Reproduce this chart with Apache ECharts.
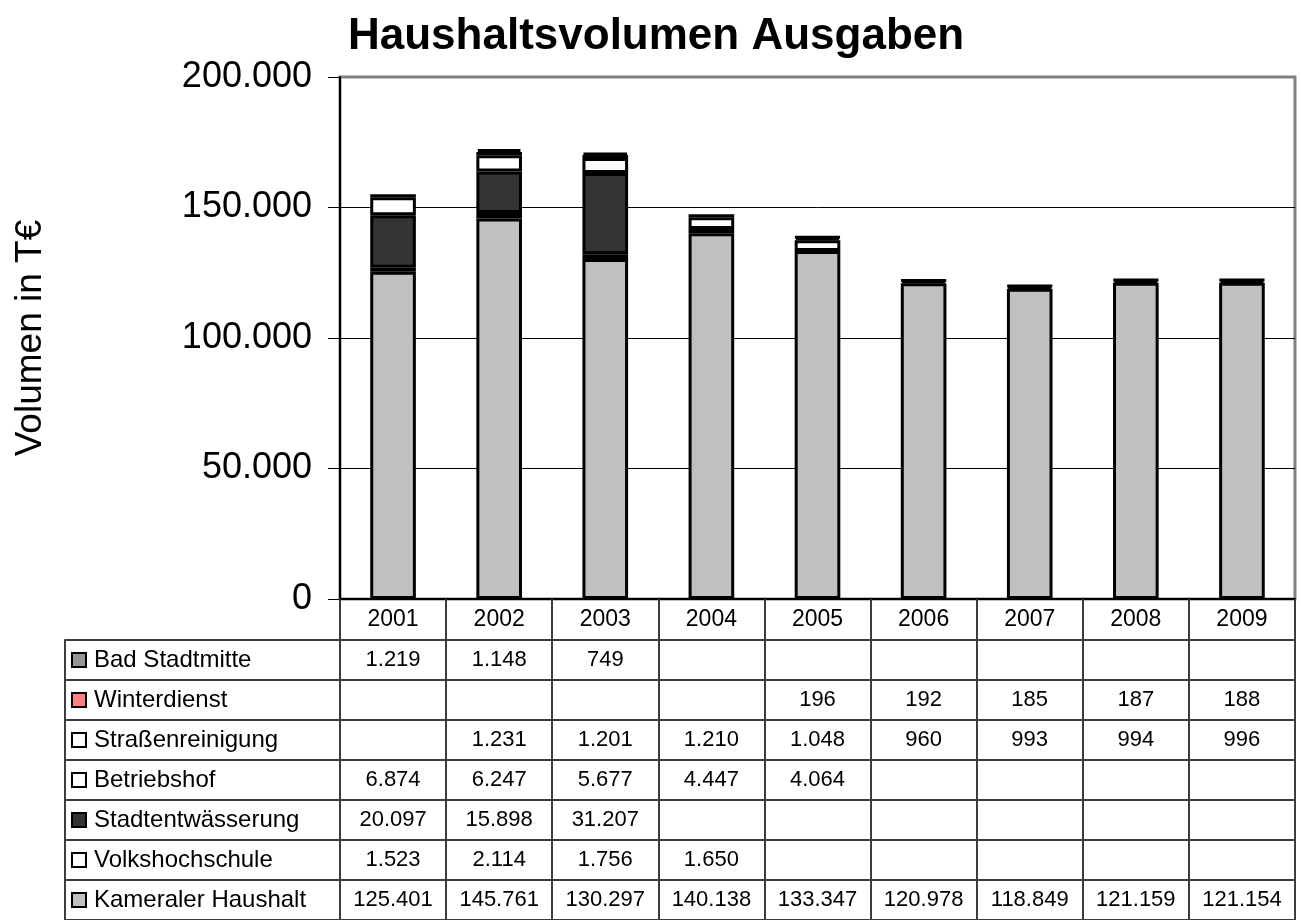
<!DOCTYPE html>
<html>
<head>
<meta charset="utf-8">
<script src="https://cdn.jsdelivr.net/npm/echarts@6/dist/echarts.min.js"></script>
<style>
  html, body { margin: 0; padding: 0; background: #fff; }
  #container { width: 1301px; height: 920px; }
</style>
</head>
<body>
<div id="container"></div>
<script>
var dom = document.getElementById("container");
var myChart = echarts.init(dom);

// data (T€)
var years = ['2001', '2002', '2003', '2004', '2005', '2006', '2007', '2008', '2009'];
var kameralerHaushalt = [125401, 145761, 130297, 140138, 133347, 120978, 118849, 121159, 121154];
var volkshochschule = [1523, 2114, 1756, 1650, null, null, null, null, null];
var stadtentwaesserung = [20097, 15898, 31207, null, null, null, null, null, null];
var betriebshof = [6874, 6247, 5677, 4447, 4064, null, null, null, null];
var strassenreinigung = [null, 1231, 1201, 1210, 1048, 960, 993, 994, 996];
var winterdienst = [null, null, null, null, 196, 192, 185, 187, 188];
var badStadtmitte = [1219, 1148, 749, null, null, null, null, null, null];

// stacking order, bottom to top (table rows are read the other way)
var names = ['Kameraler Haushalt', 'Volkshochschule', 'Stadtentwässerung', 'Betriebshof',
             'Straßenreinigung', 'Winterdienst', 'Bad Stadtmitte'];
var values = [kameralerHaushalt, volkshochschule, stadtentwaesserung, betriebshof,
              strassenreinigung, winterdienst, badStadtmitte];
var colors = ['#c0c0c0', '#ffffff', '#333333', '#ffffff', '#ffffff', '#ff8080', '#969696'];

const fmt = (v) => String(v).replace(/\B(?=(\d{3})+(?!\d))/g, '.');

var FONT = 'Liberation Sans, Arial, sans-serif';
var LINE = '#3c3c3c';

// rich styles for the little colour keys in the table
var rich = {};
names.forEach(function (n, i) {
    rich['k' + i] = {
        width: 12, height: 12,
        backgroundColor: colors[i],
        borderColor: '#000', borderWidth: 2
    };
});
rich.t = { fontSize: 24, color: '#000', padding: [0, 0, 0, 9], fontFamily: FONT };

var barSeries = names.map(function (n, i) {
    return {
        name: n,
        type: 'bar',
        stack: 'total',
        xAxisIndex: 0,
        yAxisIndex: 0,
        barWidth: '43%',
        data: values[i],
        itemStyle: {
            color: colors[i],
            borderColor: '#000',
            borderWidth: 3
        }
    };
});

var cells = [];
names.forEach(function (n, i) {
    values[i].forEach(function (v, j) {
        if (v !== null) cells.push([years[j], n, v]);
    });
});

option = {
    backgroundColor: '#fff',
    animation: false,
    textStyle: { fontFamily: FONT },
    title: {
        text: 'Haushaltsvolumen Ausgaben',
        left: 343,
        top: 10,
        textStyle: { fontSize: 44, fontWeight: 'bold', color: '#000', fontFamily: FONT }
    },
    grid: [
        { left: 340, width: 955, top: 77, height: 522, show: true, borderColor: '#808080', borderWidth: 3 },
        { left: 340, width: 955, top: 640, height: 288 }
    ],
    xAxis: [{
        type: 'category',
        gridIndex: 0,
        data: years,
        axisLine: { lineStyle: { color: '#000', width: 2 } },
        axisTick: { show: true, length: 41, interval: 0, lineStyle: { color: LINE, width: 2 } },
        axisLabel: { fontSize: 23, color: '#000', margin: 9, interval: 0 }
    }, {
        type: 'category',
        gridIndex: 1,
        data: years,
        axisLine: { show: false },
        axisTick: { show: false },
        axisLabel: { show: false },
        splitLine: { show: true, interval: 0, lineStyle: { color: LINE, width: 2 } }
    }],
    yAxis: [{
        type: 'value',
        gridIndex: 0,
        min: 0,
        max: 200000,
        interval: 50000,
        name: 'Volumen in T€',
        nameLocation: 'middle',
        nameRotate: 90,
        nameGap: 291,
        nameTextStyle: { fontSize: 37, color: '#000' },
        axisLine: { show: true, lineStyle: { color: '#000', width: 2 } },
        axisTick: { show: true, length: 12, lineStyle: { color: '#000' } },
        axisLabel: { fontSize: 36, color: '#000', margin: 28, formatter: fmt },
        splitLine: { showMaxLine: false, lineStyle: { color: '#000', width: 1 } }
    }, {
        type: 'category',
        gridIndex: 1,
        data: names,
        axisLine: { show: true, lineStyle: { color: LINE, width: 2 } },
        axisTick: { show: true, length: 275, interval: 0, lineStyle: { color: LINE, width: 2 } },
        splitLine: { show: true, interval: 0, lineStyle: { color: LINE, width: 2 } },
        axisLabel: {
            interval: 0,
            align: 'left',
            margin: 267,
            formatter: function (v, i) { return '{k' + i + '|}{t|' + v + '}'; },
            rich: rich
        }
    }, {
        // left border of the table
        type: 'category',
        gridIndex: 1,
        data: names,
        position: 'left',
        offset: 275,
        axisLine: { show: true, lineStyle: { color: LINE, width: 2 } },
        axisTick: { show: false },
        axisLabel: { show: false },
        splitLine: { show: false }
    }],
    series: barSeries.concat([{
        name: 'table',
        type: 'scatter',
        xAxisIndex: 1,
        yAxisIndex: 1,
        silent: true,
        symbolSize: 1,
        itemStyle: { color: '#fff', opacity: 1 },
        data: cells,
        label: {
            show: true,
            position: 'inside',
            fontSize: 22,
            color: '#000',
            formatter: function (p) { return fmt(p.value[2]); }
        }
    }])
};

myChart.setOption(option);
</script>
</body>
</html>
